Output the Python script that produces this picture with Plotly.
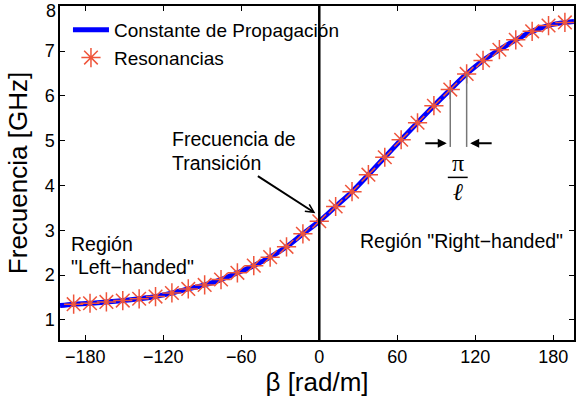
import plotly.graph_objects as go

# ---- data ----
beta_res = [-189.0, -176.4, -163.8, -151.2, -138.6, -126.0, -113.4, -100.8, -88.2, -75.6,
            -63.0, -50.4, -37.8, -25.2, -12.6, 0.0, 12.6, 25.2, 37.8, 50.4, 63.0, 75.6,
            88.2, 100.8, 113.4, 126.0, 138.6, 151.2, 163.8, 176.4, 189.0]
freq_res = [1.35, 1.37, 1.40, 1.43, 1.47, 1.52, 1.60, 1.69, 1.78, 1.90,
            2.05, 2.21, 2.40, 2.63, 2.92, 3.20, 3.53, 3.86, 4.24, 4.63, 5.02, 5.40,
            5.78, 6.14, 6.49, 6.79, 7.03, 7.25, 7.44, 7.57, 7.64]
beta_line = [-199.5] + beta_res + [196.0]
freq_line = [1.32] + freq_res + [7.66]

x_ticks = [-180, -120, -60, 0, 60, 120, 180]
y_ticks = [1, 2, 3, 4, 5, 6, 7, 8]
x_range = [-199.5, 196.0]
y_range = [0.55, 8.006]

# pi/l marker pair (resonances used for the spacing annotation)
pl_beta = [100.8, 113.4]
pl_freq = [6.14, 6.49]

FONT = "Liberation Sans, Arial, Helvetica, sans-serif"
SERIF = "Liberation Serif, DejaVu Serif, Times New Roman, serif"

fig = go.Figure()
fig.add_trace(go.Scatter(x=beta_line, y=freq_line, mode="lines",
                         line=dict(color="#0000ff", width=5, shape="spline"),
                         name="Constante de Propagación"))
fig.add_trace(go.Scatter(x=beta_res, y=freq_res, mode="markers",
                         marker=dict(symbol="asterisk-open", size=16,
                                     line=dict(color="#ff0000", width=1.5)),
                         name="Resonancias"))

shapes = []
# vertical line at beta = 0
shapes.append(dict(type="line", xref="x", yref="paper", x0=0, x1=0, y0=0, y1=1,
                   line=dict(color="black", width=2.5), layer="above"))
# pi/l guide lines
for b, f in zip(pl_beta, pl_freq):
    shapes.append(dict(type="line", xref="x", yref="y", x0=b, x1=b, y0=f, y1=4.86,
                       line=dict(color="#777777", width=1.5)))
# fraction bar
shapes.append(dict(type="line", xref="x", yref="y", x0=98.9, x1=114.2, y0=4.18, y1=4.18,
                   line=dict(color="black", width=1.5)))

ann = []
def txt(s, x, y, size=19.5, xanchor="left", family=FONT):
    ann.append(dict(text=s, x=x, y=y, xref="paper", yref="paper", showarrow=False,
                    xanchor=xanchor, yanchor="middle",
                    font=dict(family=family, size=size, color="black")))

txt("Región", 0.0174, 0.2874)
txt("\"Left−handed\"", 0.0174, 0.2195)
txt("Región \"Right−handed\"", 0.580, 0.2955)
txt("Frecuencia de", 0.2145, 0.6012)
txt("Transición", 0.2145, 0.5308)

# top y tick label (plotly hides it because it touches the page edge)
ann.append(dict(text=str(y_ticks[-1]), x=0, y=1, xref="paper", yref="paper",
                showarrow=False, xanchor="right", yanchor="top", xshift=-3, yshift=6,
                borderpad=0,
                font=dict(family=FONT, size=18, color="black")))

# transition arrow
ann.append(dict(text="", x=-3, y=3.38, xref="x", yref="y", ax=-59, ay=-38,
                showarrow=True, arrowhead=5, arrowsize=0.8, arrowwidth=2,
                arrowcolor="black", standoff=0))
# pi/l arrows
ann.append(dict(text="", x=98.1, y=4.94, xref="x", yref="y", ax=-23, ay=0,
                showarrow=True, arrowhead=2, arrowsize=0.9, arrowwidth=2,
                arrowcolor="black", standoff=0))
ann.append(dict(text="", x=116.1, y=4.94, xref="x", yref="y", ax=23, ay=0,
                showarrow=True, arrowhead=2, arrowsize=0.9, arrowwidth=2,
                arrowcolor="black", standoff=0))
# pi / l
ann.append(dict(text="π", x=106.5, y=4.50, xref="x", yref="y", showarrow=False,
                xanchor="center", yanchor="middle",
                font=dict(family=SERIF, size=24, color="black")))
ann.append(dict(text="<i>ℓ</i>", x=106.5, y=3.86, xref="x", yref="y", showarrow=False,
                xanchor="center", yanchor="middle",
                font=dict(family=SERIF, size=24, color="black")))

axis_common = dict(showline=True, linecolor="black", linewidth=1.5, mirror="ticks",
                   ticks="inside", ticklen=5, tickwidth=1, tickcolor="black",
                   showgrid=False, zeroline=False,
                   tickfont=dict(family=FONT, size=18, color="black"))

fig.update_layout(
    width=580, height=398,
    margin=dict(l=60, r=4, t=6, b=58),
    paper_bgcolor="white", plot_bgcolor="white",
    font=dict(family=FONT, color="black"),
    xaxis=dict(range=x_range, tickvals=x_ticks,
               title=dict(text="β [rad/m]", font=dict(family=FONT, size=26), standoff=4),
               **axis_common),
    yaxis=dict(range=y_range, tickvals=y_ticks,
               title=dict(text="Frecuencia [GHz]", font=dict(family=FONT, size=26), standoff=10),
               **axis_common),
    legend=dict(x=0.0155, y=0.985, xanchor="left", yanchor="top",
                bgcolor="rgba(0,0,0,0)", borderwidth=0,
                font=dict(family=FONT, size=19, color="black"),
                itemwidth=36, tracegroupgap=0),
    shapes=shapes, annotations=ann,
    showlegend=True,
)

fig.write_html("out.html")
